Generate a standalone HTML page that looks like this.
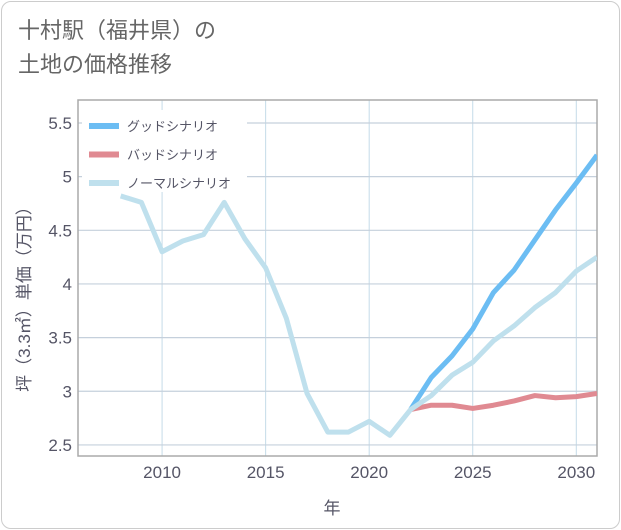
<!DOCTYPE html>
<html><head><meta charset="utf-8"><style>
body{margin:0;background:#fff;font-family:"Liberation Sans","Noto Sans CJK JP",sans-serif}
#card{position:absolute;left:1px;top:1px;width:617px;height:526px;border:1px solid #ccc;border-radius:10px;background:#fff}
#t{position:absolute;left:18px;top:14px;font-size:22px;line-height:34px;color:#666}
</style></head><body>
<div id="card"></div>
<div id="t">十村駅（福井県）の<br>土地の価格推移</div>
<svg id="c" width="621" height="530" style="position:absolute;left:0;top:0"></svg>
<script>
const years=[2008,2009,2010,2011,2012,2013,2014,2015,2016,2017,2018,2019,2020,2021,2022,2023,2024,2025,2026,2027,2028,2029,2030,2031];
const normal=[4.82,4.76,4.30,4.40,4.46,4.76,4.42,4.15,3.68,2.98,2.62,2.62,2.72,2.59,2.83,2.96,3.15,3.27,3.47,3.61,3.78,3.92,4.12,4.25];
const fYears=[2022,2023,2024,2025,2026,2027,2028,2029,2030,2031];
const good=[2.83,3.13,3.33,3.58,3.92,4.13,4.41,4.69,4.94,5.20];
const bad=[2.83,2.87,2.87,2.84,2.87,2.91,2.96,2.94,2.95,2.98];
const xTicks=[2010,2015,2020,2025,2030];
const yTicks=[2.5,3,3.5,4,4.5,5,5.5];
const L=78,R=597,T=100,B=456,x0=2005.94,x1=2031,y0=2.397,y1=5.714;
const X=v=>L+(v-x0)/(x1-x0)*(R-L), Y=v=>B-(v-y0)/(y1-y0)*(B-T);
const svg=document.getElementById('c');const NS='http://www.w3.org/2000/svg';
function mk(t,a,p){const e=document.createElementNS(NS,t);for(const k in a)e.setAttribute(k,a[k]);(p||svg).appendChild(e);return e;}
const clip=mk('clipPath',{id:'cp'});mk('rect',{x:L,y:T,width:R-L,height:B-T},clip);
xTicks.forEach(v=>{const l=mk('line',{x1:X(v),x2:X(v),y1:T,y2:B,stroke:'#c5dbe8','stroke-width':1});

const t=mk('text',{x:X(v),y:478,'text-anchor':'middle','font-size':17,fill:'#556'});t.textContent=v;
});
yTicks.forEach(v=>{const l=mk('line',{x1:L,x2:R,y1:Y(v),y2:Y(v),stroke:'#c5d0dc','stroke-width':1.2});

const t=mk('text',{x:72,y:Y(v)+6,'text-anchor':'end','font-size':17,fill:'#556'});t.textContent=v;
});
const fr=mk('rect',{x:L,y:T,width:R-L,height:B-T,fill:'none',stroke:'#aaa','stroke-width':1.5});

function line(xs,ys,col,name){const p=mk('polyline',{points:xs.map((v,i)=>X(v)+','+Y(ys[i])).join(' '),fill:'none',stroke:col,'stroke-width':5,'stroke-linejoin':'round','clip-path':'url(#cp)'});
}
line(fYears,good,'#6cbdf3','good-scenario-line');
line(fYears,bad,'#e08a92','bad-scenario-line');
line(years,normal,'#bfe0ed','normal-scenario-line');
const lb=mk('rect',{x:82,y:110,width:165,height:82,fill:'#fff'});

[['グッドシナリオ','#6cbdf3'],['バッドシナリオ','#e08a92'],['ノーマルシナリオ','#bfe0ed']].forEach((d,i)=>{
const y=126+i*28.5;const g=mk('g',{});
mk('rect',{x:89,y:y-3,width:30,height:6,fill:d[1]},g);
const t=mk('text',{x:127,y:y+5,'font-size':13,fill:'#556'},g);t.textContent=d[0];});
const xl=mk('text',{x:332,y:514,'text-anchor':'middle','font-size':17,fill:'#556'});xl.textContent='年';

const yl=mk('text',{x:0,y:0,'text-anchor':'middle','font-size':17,fill:'#556',transform:'translate(30,295) rotate(-90)'});yl.textContent='坪（3.3㎡）単価（万円）';

</script></body></html>
